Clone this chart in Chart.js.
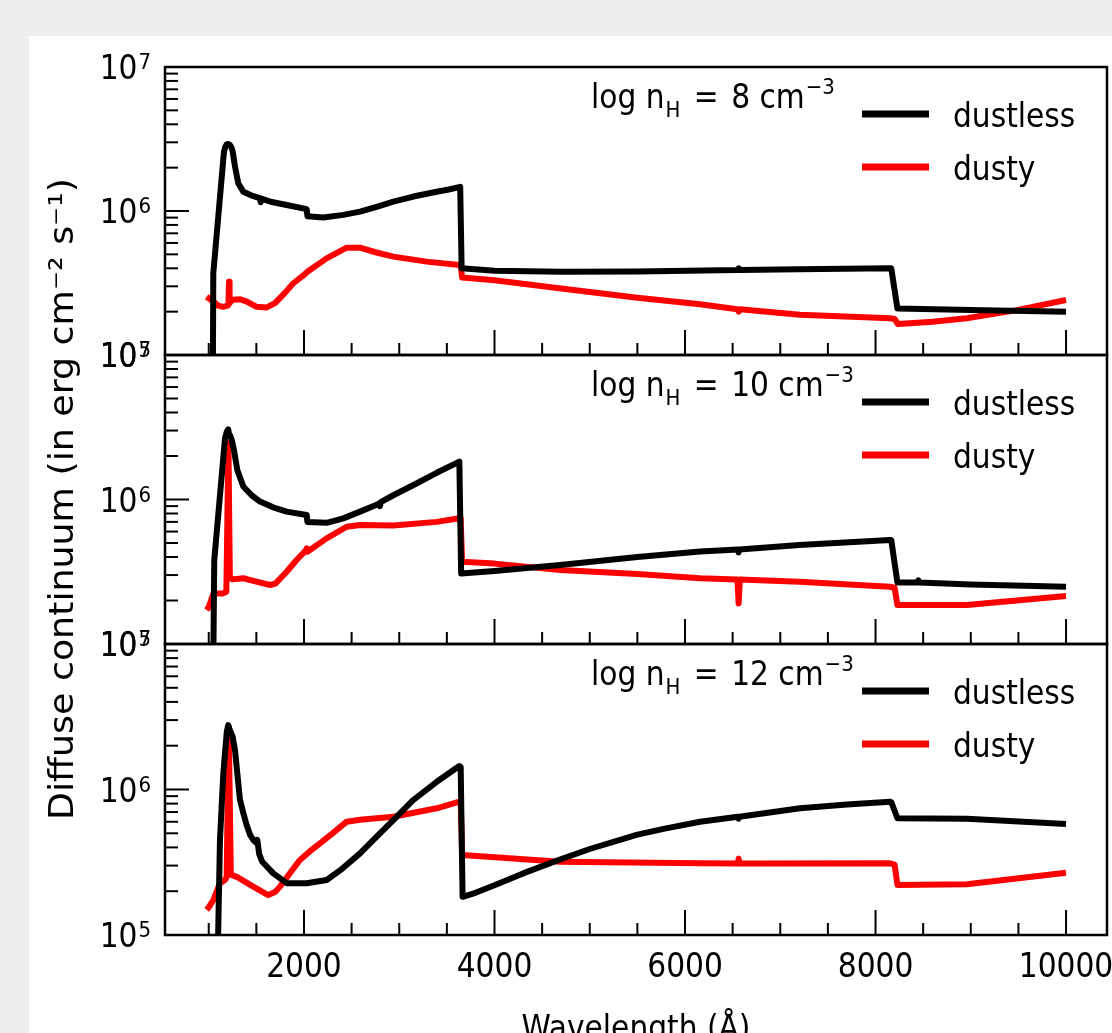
<!DOCTYPE html>
<html>
<head>
<meta charset="utf-8">
<script src="https://cdn.jsdelivr.net/npm/chart.js@4.4.1/dist/chart.umd.min.js"></script>
<style>
html,body{margin:0;padding:0;background:#eeeeee;width:1112px;height:1033px;overflow:hidden}
#card{position:absolute;left:29px;top:36px;width:1083px;height:997px;background:#ffffff}
canvas{position:absolute;left:0;top:0}
</style>
</head>
<body>
<div id="card"></div>
<canvas id="p1" width="1112" height="1033"></canvas>
<canvas id="p2" width="1112" height="1033"></canvas>
<canvas id="p3" width="1112" height="1033"></canvas>
<script>
// ---------------- data ----------------
const densityLabels = ['8', '10', '12'];
const seriesNames = ['dustless', 'dusty'];
const xTickValues = [2000, 4000, 6000, 8000, 10000];
const yTickValues = [1e5, 1e6, 1e7];
const xAxisTitle = 'Wavelength (Å)';
const yAxisTitle = 'Diffuse continuum (in erg cm⁻² s⁻¹)';

// log nH = 8
const dustless8_wl = [1040,1048,1160,1175,1188,1205,1223,1240,1251,1276,1310,1363,1450,1538,1546,1554,1650,1818,2028,2036,2203,2413,2588,2763,2938,3148,3393,3520,3640,3655,4000,4700,5500,6200,6555,6563,6571,7200,8150,8165,8230,9000,10000];
const dustless8_flux = [2.0e4,3.69e5,2.58e6,2.8e6,2.9e6,2.92e6,2.87e6,2.75e6,2.6e6,2.03e6,1.56e6,1.36e6,1.28e6,1.23e6,1.15e6,1.22e6,1.16e6,1.10e6,1.03e6,9.2e5,9.0e5,9.4e5,9.9e5,1.07e6,1.16e6,1.26e6,1.36e6,1.41e6,1.47e6,4.0e5,3.85e5,3.78e5,3.8e5,3.86e5,3.9e5,4.0e5,3.9e5,3.94e5,4.0e5,4.0e5,2.1e5,2.05e5,2.0e5];
const dusty8_wl = [978,1050,1100,1150,1200,1207,1213,1219,1250,1330,1400,1503,1608,1696,1800,1888,2000,2028,2050,2238,2448,2588,2760,2938,3288,3630,3645,3660,4000,4700,5500,6158,6550,6563,6576,7207,8152,8200,8235,8600,8957,9482,10000];
const dusty8_flux = [2.54e5,2.35e5,2.2e5,2.16e5,2.2e5,2.25e5,3.23e5,2.3e5,2.42e5,2.44e5,2.35e5,2.16e5,2.14e5,2.29e5,2.7e5,3.15e5,3.6e5,3.75e5,3.85e5,4.69e5,5.56e5,5.56e5,5.15e5,4.82e5,4.45e5,4.22e5,4.2e5,3.45e5,3.3e5,2.9e5,2.5e5,2.25e5,2.08e5,2.0e5,2.08e5,1.9e5,1.8e5,1.78e5,1.64e5,1.7e5,1.8e5,2.05e5,2.41e5];

// log nH = 10
const dustless10_wl = [1040,1058,1171,1190,1205,1215,1223,1240,1265,1300,1363,1450,1538,1700,1818,2028,2036,2238,2413,2588,2763,2790,2798,2806,2938,3150,3393,3631,3650,4000,4688,5500,6158,6555,6563,6571,7200,8152,8165,8230,8440,8450,8460,9000,10000];
const dustless10_flux = [2.0e4,3.8e5,2.65e6,2.95e6,3.06e6,2.75e6,2.8e6,2.6e6,2.2e6,1.6e6,1.23e6,1.07e6,9.67e5,8.7e5,8.24e5,7.82e5,7.0e5,6.9e5,7.4e5,8.24e5,9.2e5,9.4e5,9.0e5,9.6e5,1.07e6,1.26e6,1.53e6,1.83e6,3.08e5,3.2e5,3.52e5,4.0e5,4.36e5,4.5e5,4.3e5,4.5e5,4.85e5,5.25e5,5.25e5,2.66e5,2.66e5,2.76e5,2.66e5,2.58e5,2.49e5];
const dusty10_wl = [978,1000,1030,1050,1150,1185,1207,1222,1250,1363,1500,1643,1700,1818,1920,2020,2028,2036,2238,2448,2588,2940,3393,3631,3645,3660,4000,4688,5500,6158,6550,6563,6576,7200,8152,8200,8230,8960,10000];
const dusty10_flux = [1.72e5,1.8e5,2.05e5,2.24e5,2.24e5,2.3e5,2.45e6,2.9e5,2.8e5,2.85e5,2.7e5,2.56e5,2.62e5,3.16e5,3.8e5,4.45e5,4.6e5,4.35e5,5.38e5,6.48e5,6.66e5,6.6e5,7.0e5,7.41e5,7.4e5,3.71e5,3.6e5,3.25e5,3.05e5,2.85e5,2.8e5,1.91e5,2.8e5,2.7e5,2.49e5,2.45e5,1.86e5,1.86e5,2.15e5];

// log nH = 12
const dustless12_wl = [1090,1118,1153,1190,1205,1218,1251,1276,1300,1328,1363,1398,1433,1468,1500,1510,1530,1560,1678,1818,2028,2238,2400,2588,2763,2938,3148,3393,3631,3645,3665,3800,4000,4300,4688,5000,5500,5800,6158,6555,6563,6571,7207,7700,8152,8165,8230,8960,10000];
const dustless12_flux = [5.0e4,4.5e5,1.29e6,2.5e6,2.77e6,2.6e6,2.31e6,1.87e6,1.29e6,8.5e5,6.9e5,5.7e5,4.9e5,4.5e5,4.3e5,4.5e5,3.6e5,3.2e5,2.65e5,2.27e5,2.27e5,2.39e5,2.85e5,3.64e5,4.74e5,6.17e5,8.47e5,1.13e6,1.45e6,1.43e6,1.83e5,1.95e5,2.2e5,2.65e5,3.3e5,3.9e5,4.9e5,5.4e5,6.0e5,6.5e5,6.3e5,6.5e5,7.43e5,7.9e5,8.24e5,8.2e5,6.34e5,6.3e5,5.8e5];
const dusty12_wl = [978,1000,1048,1118,1171,1188,1210,1232,1300,1468,1550,1625,1700,1748,1850,1958,2060,2168,2300,2448,2588,2938,3393,3631,3645,3660,4688,6158,6555,6563,6571,8152,8200,8230,8960,10000];
const dusty12_flux = [1.49e5,1.55e5,1.74e5,2.27e5,2.39e5,2.5e5,2.7e6,2.6e5,2.5e5,2.15e5,2.0e5,1.88e5,1.98e5,2.15e5,2.65e5,3.28e5,3.75e5,4.26e5,5.0e5,6.01e5,6.2e5,6.5e5,7.43e5,8.24e5,8.2e5,3.55e5,3.19e5,3.11e5,3.1e5,3.35e5,3.1e5,3.11e5,3.05e5,2.21e5,2.23e5,2.68e5];

const panelSeries = [
  [[dustless8_wl, dustless8_flux], [dusty8_wl, dusty8_flux]],
  [[dustless10_wl, dustless10_flux], [dusty10_wl, dusty10_flux]],
  [[dustless12_wl, dustless12_flux], [dusty12_wl, dusty12_flux]]
];

// ---------------- layout / style ----------------
const FAM = '"DejaVu Sans Condensed", "DejaVu Sans", sans-serif';
const FAM_TITLE = '"DejaVu Sans", sans-serif';
const FS = 33;
const X_MIN = 541, X_MAX = 10430;
const PANEL_TOP = [67, 355, 644];
const PANEL_BOTTOM = [355, 644, 935];
const COLORS = ['#000000', '#ff0000'];
const H = 1033;

function pts(wl, fl) { return wl.map((x, i) => ({x: x, y: fl[i]})); }

const deco = {
  id: 'panelDeco',
  afterDatasetsDraw(chart, args, opts) {
    const ctx = chart.ctx, a = chart.chartArea;
    const xs = chart.scales.x, ys = chart.scales.y;
    const idx = opts.idx;
    ctx.save();
    ctx.strokeStyle = '#000';
    ctx.lineCap = 'butt';
    // x ticks (inward, from bottom)
    ctx.lineWidth = 2;
    for (let v = 500; v <= 10500; v += 500) {
      const px = xs.getPixelForValue(v);
      if (px < a.left + 1 || px > a.right - 1) continue;
      const len = (v % 2000 === 0) ? 25 : 12;
      ctx.beginPath(); ctx.moveTo(px, a.bottom); ctx.lineTo(px, a.bottom - len); ctx.stroke();
    }
    // y ticks (inward, from left)
    for (let e = 5; e <= 6; e++) {
      for (let m = 1; m <= 9; m++) {
        const v = m * Math.pow(10, e);
        const py = ys.getPixelForValue(v);
        const len = (m === 1) ? 24 : 13;
        ctx.beginPath(); ctx.moveTo(a.left, py); ctx.lineTo(a.left + len, py); ctx.stroke();
      }
    }
    // spines
    ctx.lineWidth = 2.5;
    ctx.strokeRect(a.left, a.top, a.right - a.left, a.bottom - a.top);

    // y tick labels (10^n with superscript), placed by the log scale
    ctx.fillStyle = '#000';
    ctx.textBaseline = 'alphabetic';
    ys.ticks.forEach(tk => {
      const py = ys.getPixelForValue(tk.value);
      const ex = String(Math.round(Math.log10(tk.value)));
      ctx.font = '22px ' + FAM;
      ctx.textAlign = 'right';
      ctx.fillText(ex, 151, py + 2);
      const ew = ctx.measureText(ex).width;
      ctx.font = FS + 'px ' + FAM;
      ctx.fillText('10', 151 - ew - 1, py + 12);
    });

    // annotation: log n_H = X cm^-3
    ctx.textAlign = 'left';
    let x = 591, y = a.top + 41;
    ctx.font = FS + 'px ' + FAM;
    let t = 'log n'; ctx.fillText(t, x, y); x += ctx.measureText(t).width + 1;
    ctx.font = '22px ' + FAM;
    ctx.fillText('H', x, y + 9); x += ctx.measureText('H').width + 4;
    ctx.font = FS + 'px ' + FAM;
    t = ' = '; ctx.fillText(t, x, y); x += ctx.measureText(t).width + 3;
    t = densityLabels[idx] + ' cm'; ctx.fillText(t, x, y); x += ctx.measureText(t).width;
    ctx.font = '22px ' + FAM;
    ctx.fillText('−3', x + 1, y - 14);

    // legend
    chart.data.datasets.forEach((ds, i) => {
      const ly = a.top + 47 + i * 53;
      ctx.strokeStyle = ds.borderColor;
      ctx.lineWidth = 7;
      ctx.beginPath(); ctx.moveTo(862, ly); ctx.lineTo(929, ly); ctx.stroke();
      ctx.fillStyle = '#000';
      ctx.font = FS + 'px ' + FAM;
      ctx.fillText(ds.label, 953, ly + 13);
    });

    // axis titles
    if (idx === 1) {
      ctx.save();
      ctx.translate(73, 499);
      ctx.rotate(-Math.PI / 2);
      ctx.textAlign = 'center';
      ctx.font = '34px ' + FAM_TITLE;
      const w = ctx.measureText(yAxisTitle).width;
      ctx.scale(642 / w, 1);
      ctx.fillText(yAxisTitle, 0, 0);
      ctx.restore();
    }
    if (idx === 2) {
      ctx.textAlign = 'center';
      ctx.font = FS + 'px ' + FAM;
      ctx.fillText(xAxisTitle, (a.left + a.right) / 2, 1039);
    }
    ctx.restore();
  }
};

function makeChart(id, idx) {
  const isLast = idx === 2;
  const datasets = panelSeries[idx].map((s, i) => ({
    label: seriesNames[i],
    data: pts(s[0], s[1]),
    borderColor: COLORS[i],
    backgroundColor: COLORS[i],
    borderWidth: 6,
    pointRadius: 0,
    tension: 0,
    fill: false,
    borderJoinStyle: 'round',
    borderCapStyle: 'butt'
  }));
  return new Chart(document.getElementById(id), {
    type: 'line',
    data: {datasets: datasets},
    options: {
      responsive: false,
      animation: false,
      events: [],
      layout: {padding: {top: PANEL_TOP[idx], right: 5, left: 0, bottom: 0}},
      plugins: {legend: {display: false}, tooltip: {enabled: false}, panelDeco: {idx: idx}},
      scales: {
        x: {
          type: 'linear', min: X_MIN, max: X_MAX, position: 'bottom',
          grid: {display: false, drawTicks: false}, border: {display: false},
          ticks: {display: isLast, color: '#000', font: {family: FAM, size: FS}, padding: 14,
                  maxRotation: 0, minRotation: 0, autoSkip: false, callback: v => String(v)},
          afterBuildTicks: s => { s.ticks = xTickValues.map(v => ({value: v})); },
          afterFit: s => { s.height = H - PANEL_BOTTOM[idx]; s.paddingLeft = 0; s.paddingRight = 0; }
        },
        y: {
          type: 'logarithmic', min: 1e5, max: 1e7, position: 'left',
          grid: {display: false, drawTicks: false}, border: {display: false},
          ticks: {display: false},
          afterBuildTicks: s => { s.ticks = yTickValues.map(v => ({value: v})); },
          afterFit: s => { s.width = 165; s.paddingTop = 0; s.paddingBottom = 0; }
        }
      }
    },
    plugins: [deco]
  });
}

makeChart('p1', 0);
makeChart('p2', 1);
makeChart('p3', 2);
</script>
</body>
</html>
